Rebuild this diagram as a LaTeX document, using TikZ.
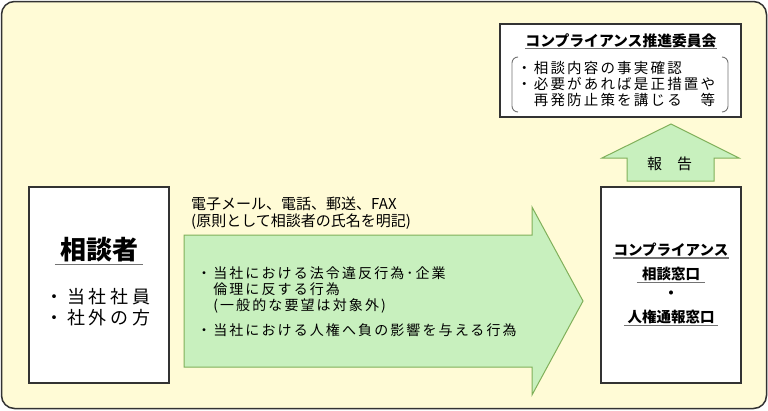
\documentclass[tikz,border=0pt]{standalone}
\usepackage{fontspec}
\setmainfont{Noto Sans CJK JP}
\newfontfamily\jpsp[LetterSpace=15]{Noto Sans CJK JP}
\newfontfamily\jpwide[LetterSpace=20]{Noto Sans CJK JP}
\definecolor{bgyellow}{HTML}{FFFBD6}
\definecolor{arrowgreen}{HTML}{C8F0BE}
\definecolor{arrowedge}{HTML}{80B05A}
\definecolor{boxline}{HTML}{333333}

\begin{document}
\begin{tikzpicture}[x=1pt,y=-1pt,
    box/.style={draw=boxline,line width=1.2pt,fill=white},
    blockarrow/.style={draw=arrowedge,line width=1pt,fill=arrowgreen},
    uline/.style={draw=black!55,line width=1.1pt},
    paren/.style={draw=black!55,line width=0.9pt}]
  \useasboundingbox (0,0) rectangle (768,410);
  \draw[fill=bgyellow,draw=black!80,line width=1.5pt,rounded corners=13pt]
  (1.5,1.5) rectangle (766.5,408.5);

  % consultant box
  \draw[box] (29,187) rectangle (169,383);
  \node (sodansha) at (99,250) [font=\bfseries\fontsize{26}{30}\selectfont,
  inner xsep=5pt,inner ysep=2pt] {相談者};
  \draw[uline] (sodansha.south west) -- (sodansha.south east);
  \node (taisho) at (98,307.5) [font=\jpwide\fontsize{18}{21}\selectfont,
  align=left,inner sep=0pt] {・当社社員\\・社外の方};

  % big arrow
  \coordinate (a0) at (184,235);
  \coordinate (a1) at (532,207);
  \coordinate (a2) at (583,301);
  \draw[blockarrow] (a0) -- (a0 -| a1) -- (a1) -- (a2) -- (532,395)
  -- (532,367) -- (184,367) -- cycle;
  \node (shudan) at (191,213.5) [anchor=west,align=left,inner sep=0pt,
  font=\fontsize{15}{17}\selectfont]
  {電子メール、電話、郵送、FAX\\(原則として相談者の氏名を明記)};
  \node (naiyo) at (197,266) [anchor=north west,align=left,inner sep=0pt,
  font=\jpsp\fontsize{14}{16}\selectfont]
  {・当社における法令違反行為･企業\\　倫理に反する行為\\　(一般的な要望は対象外)\\[9pt]
    ・当社における人権へ負の影響を与える行為};

  % desk box
  \draw[box] (601,187) rectangle (741,383);
  \begin{scope}[every node/.style={font=\bfseries\fontsize{14.5}{17}\selectfont,
      inner ysep=1pt}]
    \node (compl) at (671,250) [inner xsep=0pt] {コンプライアンス};
    \node (soudan) at (671,274) [inner xsep=5pt] {相談窓口};
    \node (nakaguro) at (671,295) {・};
    \node (jinken) at (671,317) [inner xsep=3.5pt] {人権通報窓口};
  \end{scope}
  \draw[uline] (compl.south west) -- (compl.south east);
  \draw[uline] (soudan.south west) -- (soudan.south east);
  \draw[uline] (jinken.south west) -- (jinken.south east);

  % report arrow
  \draw[blockarrow] (627,181) -- (627,158) -- (602,158) -- (671,124)
  -- (739,158) -- (714,158) -- (714,181) -- cycle;
  \node (hokoku) at (669.5,164) [font=\fontsize{15}{17}\selectfont] {報　告};

  % committee box
  \draw[box] (500,24) rectangle (741,117);
  \node (iinkai) at (621,41) [font=\bfseries\fontsize{14.8}{17}\selectfont,
  inner xsep=0pt,inner ysep=0pt] {コンプライアンス推進委員会};
  \draw[uline] (iinkai.south west) -- (iinkai.south east);
  \node (shigoto) at (517,61) [anchor=north west,align=left,inner sep=0pt,
  font=\jpsp\fontsize{14.5}{16}\selectfont]
  {・相談内容の事実確認\\・必要があれば是正措置や\\　再発防止策を講じる　等};
  \draw[paren] (518,57) to[out=180,in=90] (512,63) -- (512,106)
  to[out=-90,in=180] (518,112);
  \draw[paren] (722,57) to[out=0,in=90] (728,63) -- (728,106)
  to[out=-90,in=0] (722,112);
\end{tikzpicture}
\end{document}
